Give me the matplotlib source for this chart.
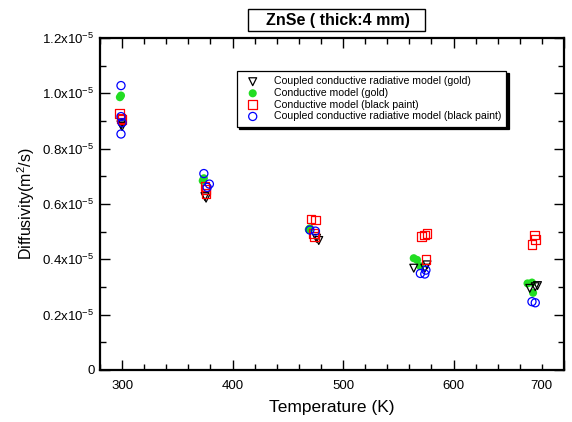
import matplotlib
matplotlib.use("Agg")
import matplotlib.pyplot as plt
import matplotlib.transforms as mtransforms
from matplotlib.patches import Rectangle
from matplotlib.ticker import FixedLocator, FixedFormatter, MultipleLocator

plt.rcParams['font.family'] = ['Liberation Sans', 'DejaVu Sans']
plt.rcParams['mathtext.fontset'] = 'custom'
plt.rcParams['mathtext.rm'] = 'Liberation Sans'

# values (diffusivity in units of 1e-5 m2/s)
coupled_gold_T = [299, 300, 300, 375, 376, 476, 478, 564, 574, 576, 669, 674, 676]
coupled_gold_D = [0.886, 0.880, 0.892, 0.627, 0.621, 0.476, 0.468, 0.368, 0.368, 0.380, 0.295, 0.301, 0.305]

cond_gold_T = [298, 299, 373, 374, 469, 470, 564, 567, 570, 667, 671, 672]
cond_gold_D = [0.986, 0.992, 0.684, 0.693, 0.508, 0.512, 0.404, 0.398, 0.375, 0.313, 0.316, 0.279]

cond_black_T = [298, 299, 300, 375, 376, 376, 471, 473, 474, 475, 571, 574, 576, 575, 671, 673, 674]
cond_black_D = [0.928, 0.910, 0.905, 0.663, 0.651, 0.639, 0.546, 0.494, 0.482, 0.542, 0.482, 0.488, 0.494, 0.398, 0.454, 0.488, 0.473]

coupled_black_T = [299, 299, 300, 299, 374, 379, 377, 470, 475, 570, 574, 575, 671, 674]
coupled_black_D = [1.028, 0.916, 0.894, 0.853, 0.710, 0.672, 0.660, 0.506, 0.502, 0.349, 0.347, 0.361, 0.247, 0.243]

x_ticks = [300, 400, 500, 600, 700]
y_ticks = [0, 0.2, 0.4, 0.6, 0.8, 1.0, 1.2]
y_labels = ['0'] + [r'$\mathregular{%.1fx10^{-5}}$' % v for v in y_ticks[1:]]

scale = 1e-5

fig = plt.figure(figsize=(5.72, 4.22), dpi=100)
ax = fig.add_axes([100/572, 52/422, 464/572, 332/422])

ax.scatter(coupled_gold_T, [d*scale for d in coupled_gold_D], marker='v', s=32,
           facecolors='none', edgecolors='black', linewidths=0.9,
           label='Coupled conductive radiative model (gold)', zorder=3)
ax.scatter(cond_gold_T, [d*scale for d in cond_gold_D], marker='o', s=34,
           color='#22dd22', edgecolors='none',
           label='Conductive model (gold)', zorder=2)
ax.scatter(cond_black_T, [d*scale for d in cond_black_D], marker='s', s=40,
           facecolors='none', edgecolors='red', linewidths=0.9,
           label='Conductive model (black paint)', zorder=3)
ax.scatter(coupled_black_T, [d*scale for d in coupled_black_D], marker='o', s=34,
           facecolors='none', edgecolors='blue', linewidths=0.9,
           label='Coupled conductive radiative model (black paint)', zorder=3)

ax.set_xlim(280, 700)
ax.set_ylim(0, 1.2e-5)
ax.xaxis.set_major_locator(FixedLocator(x_ticks))
ax.xaxis.set_minor_locator(MultipleLocator(20))
ax.yaxis.set_major_locator(FixedLocator([v*scale for v in y_ticks]))
ax.yaxis.set_major_formatter(FixedFormatter(y_labels))
ax.yaxis.set_minor_locator(MultipleLocator(0.1e-5))

ax.tick_params(which='both', direction='in', top=True, right=True, width=1, labelsize=9.5)
ax.tick_params(which='major', length=7)
ax.tick_params(which='minor', length=4)
ax.tick_params(axis='x', pad=7)
ax.tick_params(axis='y', pad=4)
for sp in ax.spines.values():
    sp.set_linewidth(1.6)

# the 700 label sits left of the frame edge
fig.canvas.draw()
last = ax.get_xticklabels()[-1]
last.set_transform(last.get_transform() + mtransforms.ScaledTranslation(-23/100, 0, fig.dpi_scale_trans))

ax.set_xlabel('Temperature (K)', fontsize=12.5, labelpad=6)
ax.set_ylabel(r'Diffusivity(m$^2$/s)', fontsize=11.5, labelpad=4)

leg = ax.legend(loc='upper left', bbox_to_anchor=(0.295, 0.90), borderaxespad=0,
                fontsize=7.6, frameon=True, fancybox=False,
                shadow={'color': 'black', 'alpha': 1, 'ox': 1.5, 'oy': -1.5},
                edgecolor='black', handletextpad=1.0, labelspacing=0.15,
                borderpad=0.5, scatterpoints=1)
leg.get_frame().set_linewidth(0.9)

# title box
fig.patches.append(Rectangle((248/572, 1 - 31/422), 177/572, 22/422, transform=fig.transFigure,
                             facecolor='white', edgecolor='black', linewidth=1.0))
fig.text(338/572, 1 - 20/422, 'ZnSe ( thick:4 mm)', ha='center', va='center',
         fontsize=11.5, fontweight='bold')

fig.savefig('out.png', dpi=100)
